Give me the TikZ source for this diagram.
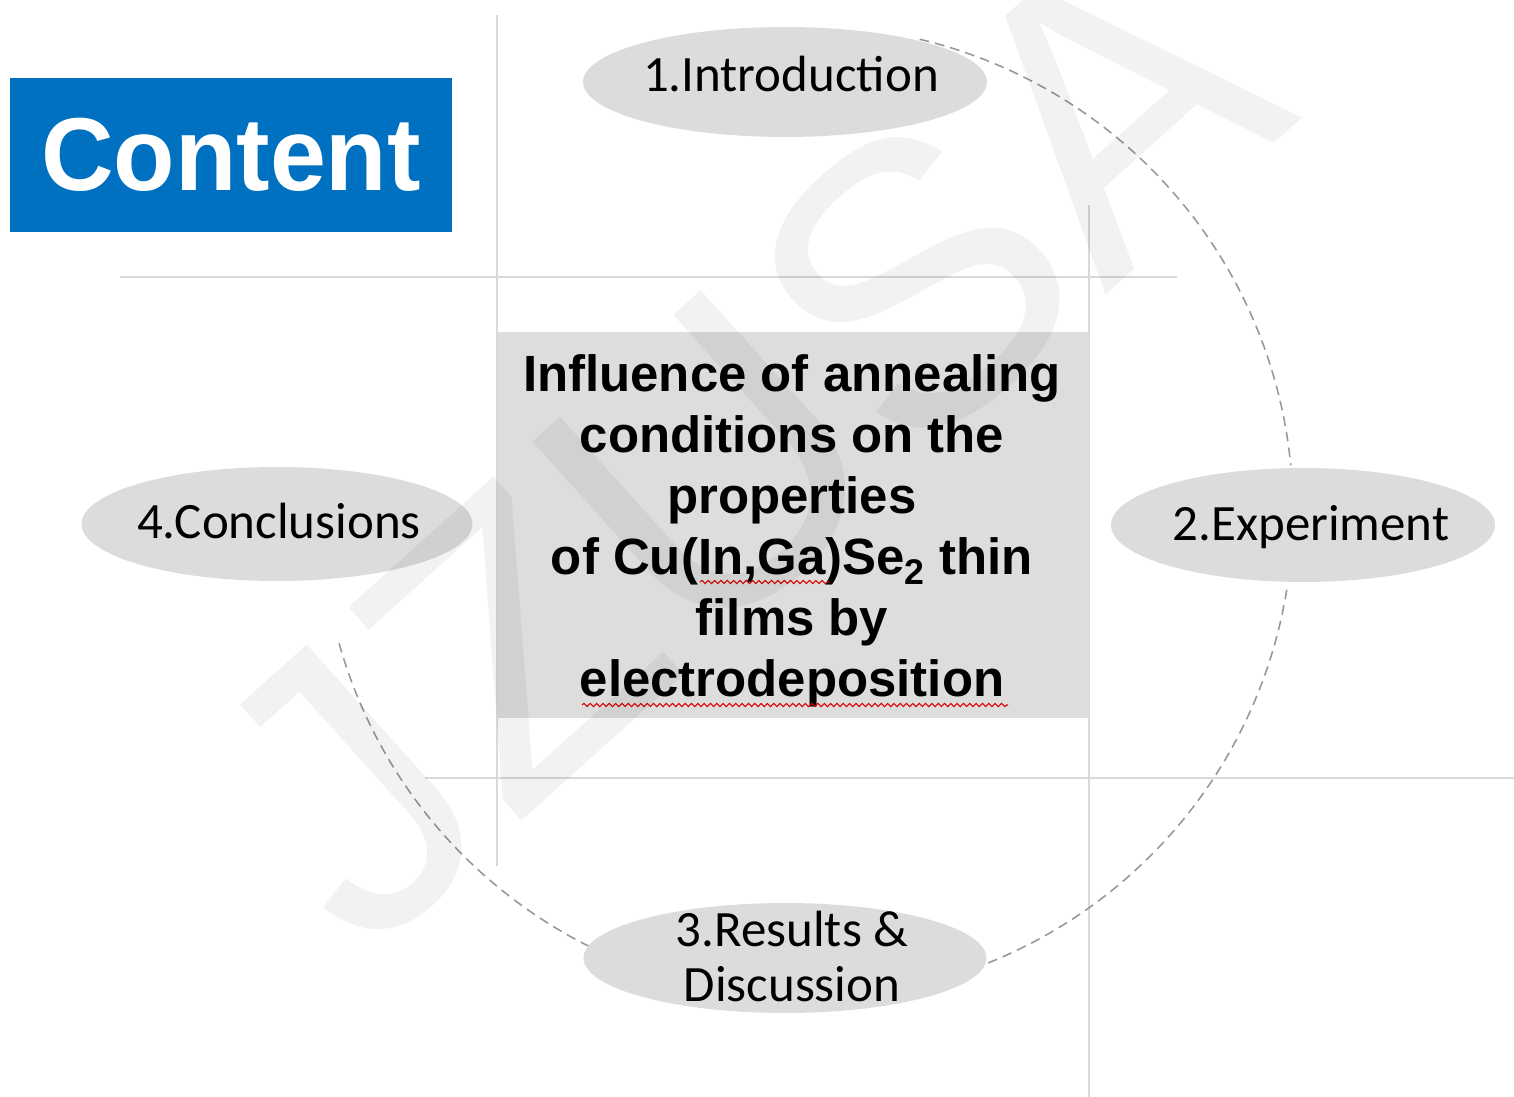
\documentclass[tikz,border=0pt]{standalone}
\usepackage{fontspec}
\setmainfont{Liberation Sans}
\newfontfamily\ellfont{Carlito}
\usetikzlibrary{shapes.geometric,decorations.pathmorphing}
\definecolor{cblue}{HTML}{0070C0}
\definecolor{egray}{HTML}{DCDCDC}
\definecolor{rgray}{HTML}{DDDDDD}
\definecolor{lgray}{HTML}{D9D9D9}
\definecolor{dgray}{HTML}{999999}
\begin{document}
\begin{tikzpicture}[x=0.02cm,y=-0.02cm,
  grid/.style={draw=lgray,line width=1.1pt},
  blob/.style={ellipse,fill=egray,inner sep=0pt},
  lbl/.style={inner sep=0pt,align=center,font=\ellfont\fontsize{29}{31.3}\selectfont},
  ring/.style={draw=dgray,line width=0.9pt,dash pattern=on 5.5pt off 3.5pt},
  squiggle/.style={draw=red!85!black,line width=0.6pt,decorate,decoration={snake,amplitude=0.9pt,segment length=3.6pt}}]
\useasboundingbox[fill=white] (0,0) rectangle (1514,1097);
% grid lines
\draw[grid] (497,15) -- (497,866);
\draw[grid] (1089,205) -- (1089,1097);
\draw[grid] (120,277) -- (1177,277);
\draw[grid] (425,778) -- (1514,778);
% dashed ring arcs
\draw[ring] plot[domain=-76.6:-5.5,samples=80] ({807+486*cos(\x)},{512+486*sin(\x)});
\draw[ring] plot[domain=9.2:68.3,samples=80] ({807+486*cos(\x)},{512+486*sin(\x)});
\draw[ring] plot[domain=116.6:164.7,samples=80] ({807+486*cos(\x)},{512+486*sin(\x)});
% title box
\node[fill=cblue,minimum width=8.84cm,minimum height=3.08cm,inner sep=0pt,text=white,
  font=\bfseries\fontsize{59}{60}\selectfont] (content) at (231,155) {\scalebox{0.97}[1]{Content}};
% centre box
\node[fill=rgray,minimum width=11.84cm,minimum height=7.72cm,inner sep=0pt] (core) at (793,525) {};
\node[inner sep=0pt,align=center,font=\bfseries\fontsize{29}{34.7}\selectfont] (title) at (792,531)
  {Influence of annealing\\conditions on the\\properties\\of Cu(In,Ga)Se\textsubscript{2} thin\\films by\\electrodeposition};
\coordinate (sq1a) at (700,582); \coordinate (sq1b) at (829,582);
\coordinate (sq2a) at (582,705); \coordinate (sq2b) at (1008,705);
\draw[squiggle] (sq1a) -- (sq1b);
\draw[squiggle] (sq2a) -- (sq2b);
% topic ellipses
\node[blob,minimum width=8.08cm,minimum height=2.2cm] (intro) at (785,82) {};
\node[lbl] (introt) at (791,74) {1.Introduction};
\node[blob,minimum width=7.68cm,minimum height=2.28cm] (exp) at (1303,525) {};
\node[lbl] (expt) at (1311,527) {2.Experiment};
\node[blob,minimum width=8.06cm,minimum height=2.2cm] (res) at (785,958) {};
\node[lbl] (rest) at (792,956) {3.Results \&\\Discussion};
\node[blob,minimum width=7.82cm,minimum height=2.28cm] (conc) at (277,524) {};
\node[lbl] (conct) at (279,521) {4.Conclusions};
% watermark
\node[rotate=42,anchor=base west,inner sep=0pt,text=black,text opacity=0.05,
  font=\fontsize{227}{230}\selectfont] (wm) at (364,963) {JZUSA};
\end{tikzpicture}
\end{document}
